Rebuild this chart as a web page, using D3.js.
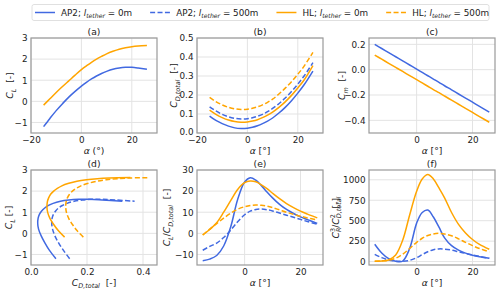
<!DOCTYPE html>
<html>
<head>
<meta charset="UTF-8">
<script src="https://d3js.org/d3.v7.min.js"></script>
<style>
  body { margin: 0; background: #fff; }
  svg { font-family: "DejaVu Sans", sans-serif; }
  .grid line { stroke: #e3e3e3; stroke-width: 1; }
  .frame { fill: none; stroke: #9a9a9a; stroke-width: 1.2; }
</style>
</head>
<body>
<div id="chart"></div>
<script>
// angle of attack grid (deg)
var alpha = [-15, -12.5, -10, -7.5, -5, -2.5, 0, 2, 4, 6, 8, 10, 12.5, 15, 17.5, 20, 22.5, 26];

// (a) lift coefficient
var clAP2 = [-1.20, -0.81, -0.44, -0.11, 0.20, 0.47, 0.72, 0.90, 1.06, 1.20, 1.32, 1.42, 1.52, 1.58, 1.61, 1.61, 1.58, 1.52];
var clHL  = [-0.18, 0.12, 0.42, 0.70, 0.97, 1.24, 1.50, 1.68, 1.85, 2.00, 2.13, 2.25, 2.37, 2.47, 2.54, 2.59, 2.62, 2.64];

// (b) total drag coefficient
var cdAP2_0   = [0.089, 0.066, 0.049, 0.036, 0.027, 0.024, 0.0255, 0.030, 0.038, 0.049, 0.0625, 0.079, 0.105, 0.135, 0.170, 0.210, 0.254, 0.326];
var cdAP2_500 = [0.138, 0.116, 0.098, 0.085, 0.077, 0.074, 0.0755, 0.080, 0.088, 0.098, 0.112, 0.129, 0.154, 0.184, 0.218, 0.257, 0.300, 0.370];
var cdHL_0    = [0.120, 0.098, 0.081, 0.068, 0.060, 0.057, 0.0585, 0.063, 0.070, 0.081, 0.094, 0.110, 0.135, 0.164, 0.198, 0.237, 0.279, 0.355];
var cdHL_500  = [0.187, 0.165, 0.148, 0.135, 0.127, 0.124, 0.1255, 0.130, 0.1375, 0.148, 0.1615, 0.178, 0.205, 0.236, 0.270, 0.309, 0.352, 0.424];

// (c) moment coefficient
var cmAP2 = [0.200, 0.167, 0.135, 0.102, 0.069, 0.037, 0.004, -0.022, -0.048, -0.074, -0.100, -0.127, -0.159, -0.192, -0.224, -0.257, -0.290, -0.335];
var cmHL  = [0.115, 0.083, 0.050, 0.018, -0.014, -0.047, -0.079, -0.105, -0.131, -0.157, -0.182, -0.208, -0.241, -0.273, -0.305, -0.338, -0.370, -0.415];

// (e) glide ratio
var ldAP2_0   = [-13.0, -12.2, -10.5, -6.0, 3.0, 16.0, 24.3, 26.3, 25.2, 22.6, 19.6, 16.8, 13.7, 11.3, 9.4, 7.8, 6.5, 4.7];
var ldAP2_500 = [-8.0, -6.2, -4.6, -2.0, 1.5, 5.5, 8.8, 10.5, 11.3, 11.5, 11.2, 10.6, 9.6, 8.6, 7.6, 6.6, 5.6, 4.3];
var ldHL_0    = [-0.8, 1.8, 5.0, 10.0, 15.5, 20.8, 24.0, 24.8, 24.4, 23.0, 21.2, 19.0, 16.4, 14.1, 12.2, 10.5, 9.1, 7.3];
var ldHL_500  = [-0.8, 2.0, 4.6, 7.2, 9.5, 11.4, 12.6, 13.2, 13.4, 13.3, 12.9, 12.2, 11.1, 10.0, 9.0, 8.1, 7.3, 6.3];

// (f) power factor
var pfAP2_0   = [212, 105, 35, 4, 6, 160, 470, 600, 630, 545, 420, 290, 195, 140, 103, 78, 60, 42];
var pfAP2_500 = [88, 48, 20, 5, 4, 15, 48, 85, 120, 145, 155, 152, 140, 120, 100, 80, 63, 40];
var pfHL_0    = [5, 8, 20, 80, 260, 570, 860, 1010, 1065, 1010, 900, 780, 600, 455, 350, 270, 210, 150];
var pfHL_500  = [4, 8, 16, 40, 90, 160, 235, 285, 318, 338, 345, 338, 315, 278, 235, 195, 160, 118];

var blue = "#4169e1", orange = "#ffa500";
var dash = "5,2.4";

var width = 500, height = 293;
var cols = [31, 197, 369], rows = [38, 170];
var pw = 126, ph = 95;
var tickFs = 8.8, labFs = 9.2;

var svg = d3.select("#chart").append("svg")
    .attr("width", width)
    .attr("height", height);
svg.append("rect").attr("width", width).attr("height", height).attr("fill", "#fff");

// text with italic / sub / sup parts
function rich(sel, parts, fs) {
    var shift = 0, prevLen = 0;
    parts.forEach(function(p) {
        var ts = sel.append("tspan").text(p.t);
        if (p.i) ts.attr("font-style", "italic");
        var target = 0, size = fs;
        if (p.s === "sub") { target = fs * 0.3; size = fs * 0.7; }
        if (p.s === "sup") { target = -fs * 0.42; size = fs * 0.7; }
        ts.attr("font-size", size).attr("dy", target - shift);
        if (p.back) ts.attr("dx", -prevLen);
        shift = target;
        prevLen = ts.node().getComputedTextLength();
    });
}

var nb = "\u00a0";
var alphaParen = [{t: "α", i: 1}, {t: " (°)"}];
var alphaBrack = [{t: "α", i: 1}, {t: " [°]"}];
var cdTotal = [{t: "C", i: 1}, {t: "D,total", i: 1, s: "sub"}];

var panels = [
    {title: "(a)", col: 0, row: 0, x: [-20, 30], y: [-1.5, 3], xt: [-20, 0, 20], yt: [-1, 0, 1, 2, 3], xf: "d", yf: "d",
     xlab: alphaParen, ylab: [{t: "C", i: 1}, {t: "L", i: 1, s: "sub"}, {t: nb + nb + "[-]"}], yoff: 18,
     series: [[alpha, clAP2, blue, 0], [alpha, clHL, orange, 0]]},
    {title: "(b)", col: 1, row: 0, x: [-20, 30], y: [0, 0.5], xt: [-20, 0, 20], yt: [0, 0.1, 0.2, 0.3, 0.4, 0.5], xf: "d", yf: ".1f",
     xlab: alphaBrack, ylab: cdTotal.concat([{t: nb + nb + "[-]"}]), yoff: 20,
     series: [[alpha, cdAP2_0, blue, 0], [alpha, cdAP2_500, blue, 1], [alpha, cdHL_0, orange, 0], [alpha, cdHL_500, orange, 1]]},
    {title: "(c)", col: 2, row: 0, x: [-17.05, 28.05], y: [-0.5, 0.25], xt: [0, 20], yt: [-0.4, -0.2, 0, 0.2], xf: "d", yf: ".1f",
     xlab: alphaBrack, ylab: [{t: "C", i: 1}, {t: "m", i: 1, s: "sub"}, {t: nb + nb + "[-]"}], yoff: 24,
     series: [[alpha, cmAP2, blue, 0], [alpha, cmHL, orange, 0]]},
    {title: "(d)", col: 0, row: 1, x: [0, 0.45], y: [-1.5, 3], xt: [0, 0.2, 0.4], yt: [-1, 0, 1, 2, 3], xf: ".1f", yf: "d",
     xlab: cdTotal.concat([{t: nb + nb + "[-]"}]), ylab: [{t: "C", i: 1}, {t: "L", i: 1, s: "sub"}, {t: " [-]"}], yoff: 19,
     series: [[cdAP2_0, clAP2, blue, 0], [cdAP2_500, clAP2, blue, 1], [cdHL_0, clHL, orange, 0], [cdHL_500, clHL, orange, 1]]},
    {title: "(e)", col: 1, row: 1, x: [-17.05, 28.05], y: [-15, 30], xt: [0, 20], yt: [-10, 0, 10, 20, 30], xf: "d", yf: "d",
     xlab: alphaBrack, ylab: [{t: "C", i: 1}, {t: "L", i: 1, s: "sub"}, {t: "/"}].concat(cdTotal, [{t: nb + nb + "[-]"}]), yoff: 27,
     series: [[alpha, ldAP2_0, blue, 0], [alpha, ldAP2_500, blue, 1], [alpha, ldHL_0, orange, 0], [alpha, ldHL_500, orange, 1]]},
    {title: "(f)", col: 2, row: 1, x: [-17.05, 28.05], y: [-42, 1120], xt: [0, 20], yt: [0, 250, 500, 750, 1000], xf: "d", yf: "d",
     xlab: alphaBrack,
     ylab: [{t: "C", i: 1}, {t: "R", i: 1, s: "sub"}, {t: "3", s: "sup", back: 1}, {t: "/"}, {t: "C", i: 1},
            {t: "D,total", i: 1, s: "sub"}, {t: "2", s: "sup", back: 1}, {t: nb + nb + "[-]"}], yoff: 30.5,
     series: [[alpha, pfAP2_0, blue, 0], [alpha, pfAP2_500, blue, 1], [alpha, pfHL_0, orange, 0], [alpha, pfHL_500, orange, 1]]}
];

panels.forEach(function(p) {
    var left = cols[p.col], top = rows[p.row];
    var g = svg.append("g").attr("transform", "translate(" + left + "," + top + ")");
    var x = d3.scaleLinear().domain(p.x).range([0, pw]);
    var y = d3.scaleLinear().domain(p.y).range([ph, 0]);

    // grid
    var grid = g.append("g").attr("class", "grid");
    grid.selectAll(".gx").data(p.xt).enter().append("line")
        .attr("x1", function(d) { return x(d); }).attr("x2", function(d) { return x(d); })
        .attr("y1", 0).attr("y2", ph);
    grid.selectAll(".gy").data(p.yt).enter().append("line")
        .attr("y1", function(d) { return y(d); }).attr("y2", function(d) { return y(d); })
        .attr("x1", 0).attr("x2", pw);

    // curves
    var clip = "clip" + p.col + p.row;
    g.append("clipPath").attr("id", clip).append("rect").attr("width", pw).attr("height", ph);
    var line = d3.line()
        .x(function(d) { return x(d[0]); })
        .y(function(d) { return y(d[1]); })
        .curve(d3.curveCatmullRom.alpha(0.5));
    p.series.forEach(function(s) {
        var pts = s[0].map(function(v, i) { return [v, s[1][i]]; });
        g.append("path")
            .attr("d", line(pts))
            .attr("fill", "none")
            .attr("stroke", s[2])
            .attr("stroke-width", 1.5)
            .attr("stroke-dasharray", s[3] ? dash : null)
            .attr("clip-path", "url(#" + clip + ")");
    });

    // axes
    var ax = g.append("g").attr("transform", "translate(0," + ph + ")")
        .call(d3.axisBottom(x).tickValues(p.xt).tickSize(0).tickPadding(4.2).tickFormat(d3.format(p.xf)));
    var ay = g.append("g")
        .call(d3.axisLeft(y).tickValues(p.yt).tickSize(0).tickPadding(3.5).tickFormat(d3.format(p.yf)));
    [ax, ay].forEach(function(a) {
        a.select(".domain").remove();
        a.selectAll("text").attr("font-size", tickFs).attr("fill", "#222").attr("font-family", "DejaVu Sans");
    });
    // lift the lowest y tick a little so it clears the first x tick
    ay.selectAll(".tick text").filter(function(d) { return y(d) > ph - 2; }).attr("dy", "0.2em");

    g.append("rect").attr("class", "frame").attr("width", pw).attr("height", ph);

    // title
    g.append("text").attr("x", pw / 2).attr("y", -3.5)
        .attr("text-anchor", "middle").attr("font-size", labFs).attr("fill", "#222")
        .text(p.title);

    // axis labels
    var xl = g.append("text").attr("x", pw / 2).attr("y", ph + 20.5)
        .attr("text-anchor", "middle").attr("fill", "#222");
    rich(xl, p.xlab, labFs);
    var yl = g.append("text")
        .attr("transform", "translate(" + (-p.yoff) + "," + (ph / 2) + ") rotate(-90)")
        .attr("text-anchor", "middle").attr("fill", "#222");
    rich(yl, p.ylab, labFs);
});

// legend
var legendItems = [
    {name: "AP2", len: "0m", c: blue, d: 0},
    {name: "AP2", len: "500m", c: blue, d: 1},
    {name: "HL", len: "0m", c: orange, d: 0},
    {name: "HL", len: "500m", c: orange, d: 1}
];
var lg = svg.append("g");
lg.append("rect").attr("x", 32).attr("y", 4.5).attr("width", 457).attr("height", 16)
    .attr("rx", 2).attr("fill", "#fff").attr("stroke", "#d8d8d8").attr("stroke-width", 0.8);
var lx = 35, ly = 12.5;
legendItems.forEach(function(it) {
    lg.append("line").attr("x1", lx).attr("x2", lx + 20).attr("y1", ly).attr("y2", ly)
        .attr("stroke", it.c).attr("stroke-width", 1.5)
        .attr("stroke-dasharray", it.d ? dash : null);
    var t = lg.append("text").attr("x", lx + 26).attr("y", ly + 3).attr("fill", "#222");
    rich(t, [{t: it.name + "; "}, {t: "l", i: 1}, {t: "tether", i: 1, s: "sub"}, {t: " = " + it.len}], 8.8);
    lx = lx + 26 + t.node().getComputedTextLength() + 18;
});
</script>
</body>
</html>
